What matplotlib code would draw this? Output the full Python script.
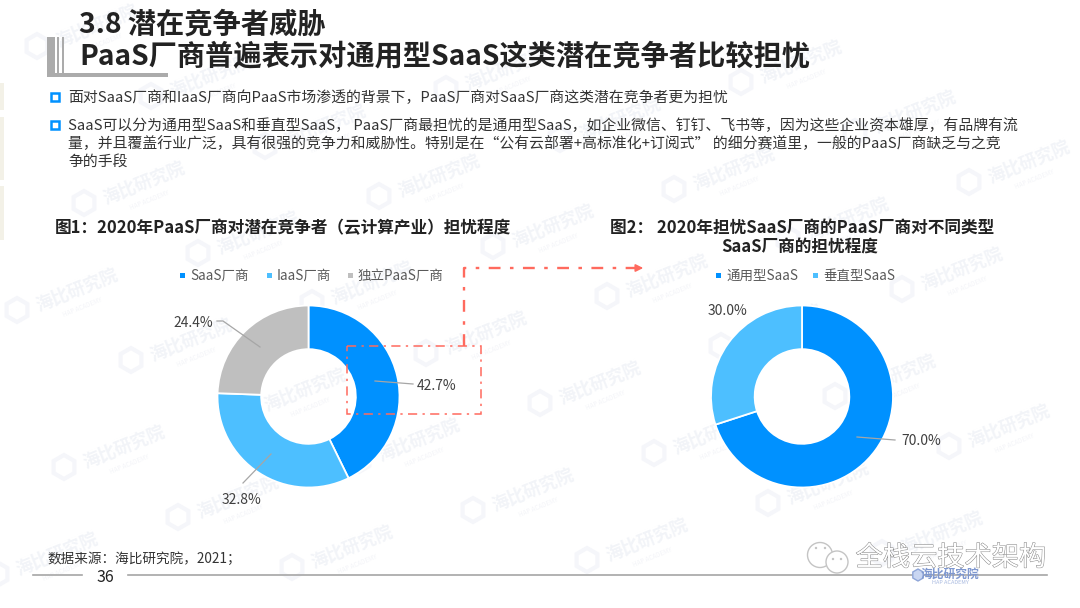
import matplotlib
matplotlib.use('Agg')
import matplotlib.pyplot as plt
import matplotlib.patheffects as pe
from matplotlib.patches import Rectangle, RegularPolygon, Circle

plt.rcParams['font.family'] = ['Noto Sans CJK SC', 'DejaVu Sans']

W, H = 1080, 608

# Chart data
labels_1 = ['SaaS厂商', 'IaaS厂商', '独立PaaS厂商']
values_1 = [42.7, 32.8, 24.4]
colors_1 = ['#0091FF', '#4DBFFF', '#BFBFBF']

labels_2 = ['通用型SaaS', '垂直型SaaS']
values_2 = [70.0, 30.0]
colors_2 = ['#0091FF', '#4DBFFF']

title_1 = '3.8 潜在竞争者威胁'
title_2 = 'PaaS厂商普遍表示对通用型SaaS这类潜在竞争者比较担忧'
bullet_1 = ['面对SaaS厂商和IaaS厂商向PaaS市场渗透的背景下，PaaS厂商对SaaS厂商这类潜在竞争者更为担忧']
bullet_2 = ['SaaS可以分为通用型SaaS和垂直型SaaS， PaaS厂商最担忧的是通用型SaaS，如企业微信、钉钉、飞书等，因为这些企业资本雄厚，有品牌有流',
            '量，并且覆盖行业广泛，具有很强的竞争力和威胁性。特别是在“公有云部署+高标准化+订阅式” 的细分赛道里，一般的PaaS厂商缺乏与之竞',
            '争的手段']
source = '数据来源：海比研究院，2021；'
page = '36'

fig = plt.figure(figsize=(10.8, 6.08), dpi=100, facecolor='white')
bg = fig.add_axes([0, 0, 1, 1], zorder=0)
bg.set_xlim(0, W)
bg.set_ylim(H, 0)
bg.axis('off')

# watermark tiles, skipped near the edges so they are not cut
for i in range(-6, 14):
    for j in range(-3, 8):
        x0 = 372 + 114 * i - 67 * j
        y0 = 283 + 50 * i + 107 * j
        if 50 < x0 < W - 50 and 22 < y0 < H - 22:
            bg.text(x0, y0, '海比研究院', fontsize=12.5, color='#F2F4F8', rotation=22,
                    ha='center', va='center', fontweight='bold', zorder=0.5)
            bg.text(x0 + 6, y0 + 17, 'HAP ACADEMY', fontsize=4.5, color='#F3F4F8', rotation=22,
                    ha='center', va='center', zorder=0.5)
            bg.add_patch(RegularPolygon((x0 - 60, y0 + 20), 6, radius=12, facecolor='none',
                                        edgecolor='#F5F6FA', lw=3, zorder=0.5))

# title block
bg.text(79, 25, title_1, fontsize=20.3, fontweight='bold', color='#222222', va='center')
bg.text(79, 56, title_2, fontsize=20.3, fontweight='bold', color='#222222', va='center')
grey = '#ABABAB'
bg.add_patch(Rectangle((47, 37), 8, 40, color=grey, lw=0))
bg.add_patch(Rectangle((57, 37), 2, 38, color=grey, lw=0))
bg.add_patch(Rectangle((62, 37), 2, 38, color=grey, lw=0))
bg.add_patch(Rectangle((47, 73), 121, 4, color=grey, lw=0))
for y0, y1 in [(83, 110), (117, 180), (186, 240)]:
    bg.add_patch(Rectangle((0, y0), 4, y1 - y0, color='#F3F1E7', lw=0))

# bullets
for yb in [97, 125]:
    bg.add_patch(Rectangle((51, yb - 4), 8, 8, facecolor='white', edgecolor='#0091FF', lw=1.8))
bg.text(68, 98, bullet_1[0], fontsize=10.7, color='#333333', va='center')
for i, line in enumerate(bullet_2):
    bg.text(68, 126 + i * 18, line, fontsize=10.7, color='#333333', va='center')

# chart headings
bg.text(55, 228, '图1：2020年PaaS厂商对潜在竞争者（云计算产业）担忧程度', fontsize=12,
        fontweight='bold', color='#222222', va='center')
bg.text(610, 228, '图2： 2020年担忧SaaS厂商的PaaS厂商对不同类型', fontsize=12,
        fontweight='bold', color='#222222', va='center')
bg.text(800, 248, 'SaaS厂商的担忧程度', fontsize=12, fontweight='bold', color='#222222',
        va='center', ha='center')


def donut(cx, cy, r, values, colors):
    # axes placed in pixels, pie fills it
    ax = fig.add_axes([(cx - r) / W, 1 - (cy + r) / H, 2 * r / W, 2 * r / H], zorder=1)
    ax.patch.set_alpha(0)
    ax.pie(values, colors=colors, startangle=90, counterclock=False, radius=1,
           wedgeprops=dict(width=0.48, edgecolor='white', linewidth=1.3))
    ax.set_xlim(-1, 1)
    ax.set_ylim(-1, 1)
    ax.set_aspect('equal')
    return ax


donut(308.5, 396.5, 91, values_1, colors_1)
donut(802, 396.5, 91, values_2, colors_2)

fg = fig.add_axes([0, 0, 1, 1], zorder=2)
fg.set_xlim(0, W)
fg.set_ylim(H, 0)
fg.axis('off')


def legend_row(items, colors, xs, y):
    for label, color, x in zip(items, colors, xs):
        fg.add_patch(Rectangle((x, y - 2.5), 5, 5, color=color, lw=0))
        fg.text(x + 10, y + 1, label, fontsize=9.7, color='#595959', va='center')


legend_row(labels_1, colors_1, [180, 267, 348], 275)
legend_row(labels_2, colors_2, [716, 813], 275)


# value labels and leader lines
def value_label(text, x, y, path):
    fg.text(x, y + 1, text, fontsize=10, color='#404040', va='center', ha='center')
    fg.plot([p[0] for p in path], [p[1] for p in path], color='#A6A6A6', lw=0.9)


value_label(f'{values_1[0]}%', 437, 385, [(375, 381), (413, 384)])
value_label(f'{values_1[1]}%', 242, 499, [(271, 454), (243, 483)])
value_label(f'{values_1[2]}%', 193, 322, [(217, 321), (223, 321), (260, 347)])
value_label(f'{values_2[0]:.1f}%', 921, 440, [(857, 437), (895, 440)])
value_label(f'{values_2[1]:.1f}%', 728, 310, [])

# red dash-dot callout
red = '#FF6A5E'
fg.add_patch(Rectangle((347, 346), 134, 68, fill=False, edgecolor=red, lw=1.1,
                       linestyle=(0, (6, 3.5, 1.5, 3.5))))
fg.plot([464, 464, 636], [346, 268, 268], color=red, lw=1.7, linestyle=(0, (5, 4, 1.5, 4)))
fg.annotate('', xy=(646, 268), xytext=(634, 268),
            arrowprops=dict(arrowstyle='-|>', color=red, lw=1.2, mutation_scale=11))

# footer
fg.text(47, 559, source, fontsize=9.8, color='#333333', va='center')
fg.text(105, 577, page, fontsize=11.5, color='#222222', va='center', ha='center')
fg.plot([33, 82], [575, 575], color='#A6A6A6', lw=1.2)
fg.plot([128, 1047], [575, 575], color='#A6A6A6', lw=1.2)

# account mark bottom right
fg.add_patch(Circle((820, 555), 12.5, facecolor='white', edgecolor='#C4C4C4', lw=1))
fg.add_patch(Circle((837, 562), 11, facecolor='white', edgecolor='#C4C4C4', lw=1))
for dx, dy in [(816, 548), (825, 548), (833, 559), (841, 559)]:
    fg.add_patch(Circle((dx, dy), 1.2, color='#C4C4C4', lw=0))
fg.text(951, 558, '全栈云技术架构', fontsize=19.6, color='white', va='center', ha='center',
        path_effects=[pe.withStroke(linewidth=0.7, foreground='#858585')])
fg.add_patch(RegularPolygon((918, 575), 6, radius=6, facecolor='#C9D6F2', edgecolor='#8FA6D8', lw=1, zorder=4))
fg.text(950, 574, '海比研究院', fontsize=8.5, color='#7F98D0', va='center', ha='center',
        fontweight='bold', zorder=5)
fg.text(950, 582, 'HAP ACADEMY', fontsize=4, color='#A9BAE0', va='center', ha='center')

fig.savefig('out.png', dpi=100)
